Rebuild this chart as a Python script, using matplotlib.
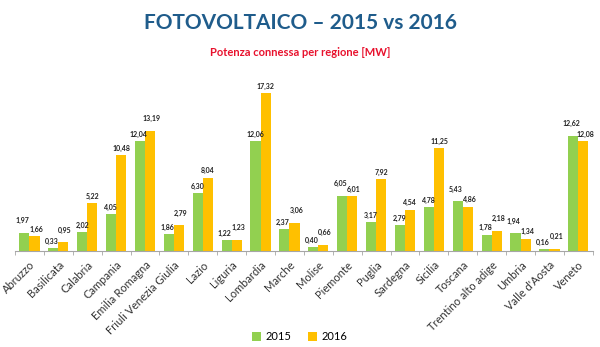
import matplotlib.pyplot as plt
import numpy as np

plt.rcParams['font.family'] = ['Lato', 'DejaVu Sans']

REGIONI = ['Abruzzo', 'Basilicata', 'Calabria', 'Campania', 'Emilia Romagna',
           'Friuli Venezia Giulia', 'Lazio', 'Liguria', 'Lombardia', 'Marche',
           'Molise', 'Piemonte', 'Puglia', 'Sardegna', 'Sicilia', 'Toscana',
           'Trentino alto adige', 'Umbria', "Valle d'Aosta", 'Veneto']
MW_2015 = [1.97, 0.33, 2.02, 4.05, 12.04, 1.86, 6.30, 1.22, 12.06, 2.37,
           0.40, 6.05, 3.17, 2.79, 4.78, 5.43, 1.78, 1.94, 0.16, 12.62]
MW_2016 = [1.66, 0.95, 5.22, 10.48, 13.19, 2.79, 8.04, 1.23, 17.32, 3.06,
           0.66, 6.01, 7.92, 4.54, 11.25, 4.86, 2.18, 1.34, 0.21, 12.08]

C15 = '#92D050'
C16 = '#FFC000'

fig = plt.figure(figsize=(6, 3.47), dpi=100)
ax = fig.add_axes([0.025, 0.277, 0.963, 0.478])

x = np.arange(len(REGIONI))
w = 0.35
ax.bar(x - w / 2, MW_2015, w, color=C15, label='2015')
ax.bar(x + w / 2, MW_2016, w, color=C16, label='2016')


def fmt(v):
    return f'{v:.2f}'.replace('.', ',')


# etichette: se i valori sono vicini si alza quella del valore maggiore
for xi, a, b in zip(x, MW_2015, MW_2016):
    near = abs(a - b) < 1.2
    dx = 0.06 if near else 0.0
    ya = a + 0.35 + (0.6 if near and a >= b else 0)
    yb = b + 0.35 + (0.6 if near and b > a else 0)
    ax.text(xi - w / 2 - dx, ya, fmt(a), ha='center', va='bottom',
            fontsize=5, fontweight='bold', color='#222222')
    ax.text(xi + w / 2 + dx, yb, fmt(b), ha='center', va='bottom',
            fontsize=5, fontweight='bold', color='#222222')

ax.set_xlim(-0.5, len(REGIONI) - 0.5)
ax.set_ylim(0, 18.2)
ax.set_yticks([])
for s in ['top', 'right', 'left']:
    ax.spines[s].set_visible(False)
ax.spines['bottom'].set_color('#A6A6A6')

ax.set_xticks(x)
ax.set_xticklabels(REGIONI, rotation=45, ha='right', rotation_mode='anchor',
                   fontsize=8, color='#333333')
ax.tick_params(axis='x', length=0, pad=6)
ax.set_xticks(np.arange(len(REGIONI) + 1) - 0.5, minor=True)
ax.tick_params(axis='x', which='minor', length=3, color='#A6A6A6')

fig.text(0.5, 0.935, 'FOTOVOLTAICO \u2013 2015 vs 2016', ha='center',
         va='center', fontsize=15, fontweight='bold', color='#1F5C8B')
fig.text(0.5, 0.85, 'Potenza connessa per regione [MW]', ha='center',
         va='center', fontsize=8, fontweight='bold', color='#E8112D')

fig.legend(loc='lower center', bbox_to_anchor=(0.5, -0.015), ncol=2,
           frameon=False, fontsize=8, handlelength=0.8, handleheight=0.8,
           columnspacing=1.5, handletextpad=0.4)

fig.savefig('out.png', dpi=100)
